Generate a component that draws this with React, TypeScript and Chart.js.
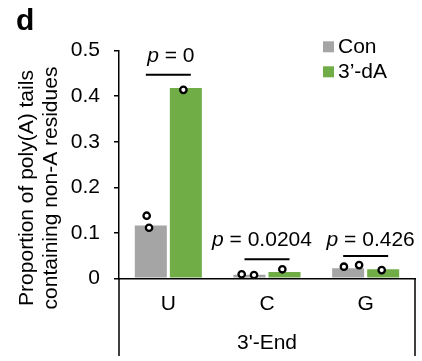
import React, { useEffect, useRef } from 'react';
import { Chart, registerables } from 'chart.js';

Chart.register(...registerables);

// ---- data ----
const categories = ['U', 'C', 'G'];
const seriesNames = ['Con', '3\u2019-dA'];
const conMeans = [0.116, 0.008, 0.022];
const dAMeans = [0.418, 0.014, 0.020];
const conPoints = [[0.1375, 0.111], [0.0088, 0.0073], [0.0255, 0.029]];
const dAPoints = [[0.414], [0.0198], [0.018]];
const conJitter = [[-0.042, -0.018], [-0.079, 0.046], [-0.043, 0.111]];
const dAJitter = [[-0.025], [-0.022], [-0.015]];
const pValues = ['0', '0.0204', '0.426'];
const bracketLevels = [0.447, 0.042, 0.049];
const pTextLevels = [0.475, 0.07, 0.07];
const yTicks = [0, 0.1, 0.2, 0.3, 0.4, 0.5];
const xTitle = "3'-End";
const yTitle = ['Proportion of poly(A) tails', 'containing non-A residues'];
const panelLabel = 'd';

// ---- style ----
const FONT = '"Liberation Sans", Arial, Helvetica, sans-serif';
const FS = 21;
const GRAY = '#A5A5A5';
const GREEN = '#70AD47';
const CAT_PCT = 0.71;
const BAR_PCT = 0.914;
const GROUP_OFF = CAT_PCT / 4;
const BRACKET_HALF = 0.228;
const TEXT_SHIFT = [2.5, -5, 5];

function pointData(points: number[][], jitter: number[][], side: number) {
  const out: { x: number; y: number }[] = [];
  points.forEach((arr, i) => {
    arr.forEach((v, j) => {
      out.push({ x: i + side * GROUP_OFF + jitter[i][j], y: v });
    });
  });
  return out;
}

const decorPlugin = {
  id: 'decor',
  afterDraw(chart: any) {
    const ctx = chart.ctx as CanvasRenderingContext2D;
    const area = chart.chartArea;
    const xs = chart.scales.x;
    const ys = chart.scales.y;
    ctx.save();
    ctx.fillStyle = '#000';
    ctx.strokeStyle = '#000';

    // panel label
    ctx.font = `bold 30px ${FONT}`;
    ctx.textAlign = 'left';
    ctx.textBaseline = 'alphabetic';
    ctx.fillText(panelLabel, 16, 30);

    // y title
    ctx.font = `${FS}px ${FONT}`;
    ctx.textAlign = 'center';
    const yc = 188;
    [33, 57].forEach((bx, k) => {
      ctx.save();
      ctx.translate(bx, yc);
      ctx.rotate(-Math.PI / 2);
      ctx.fillText(yTitle[k], 0, 0);
      ctx.restore();
    });

    // x title
    ctx.fillText(xTitle, (area.left + area.right) / 2, 349);

    // category group lines below axis
    ctx.lineWidth = 1.5;
    ctx.beginPath();
    ctx.moveTo(area.left, area.bottom);
    ctx.lineTo(area.left, 356);
    ctx.moveTo(area.right, area.bottom);
    ctx.lineTo(area.right, 356);
    ctx.stroke();

    // brackets and p labels
    ctx.lineWidth = 2;
    categories.forEach((_, i) => {
      const y = ys.getPixelForValue(bracketLevels[i]);
      ctx.beginPath();
      ctx.moveTo(xs.getPixelForValue(i - BRACKET_HALF), y);
      ctx.lineTo(xs.getPixelForValue(i + BRACKET_HALF), y);
      ctx.stroke();
      const ty = ys.getPixelForValue(pTextLevels[i]);
      const cx = xs.getPixelForValue(i) + TEXT_SHIFT[i];
      ctx.font = `italic ${FS}px ${FONT}`;
      const wp = ctx.measureText('p').width;
      ctx.font = `${FS}px ${FONT}`;
      const rest = ' = ' + pValues[i];
      const wr = ctx.measureText(rest).width;
      const x0 = cx - (wp + wr) / 2;
      ctx.textAlign = 'left';
      ctx.font = `italic ${FS}px ${FONT}`;
      ctx.fillText('p', x0, ty);
      ctx.font = `${FS}px ${FONT}`;
      ctx.fillText(rest, x0 + wp, ty);
    });

    // legend
    const colors = [GRAY, GREEN];
    ctx.textAlign = 'left';
    ctx.font = `${FS}px ${FONT}`;
    seriesNames.forEach((name, k) => {
      const top = 41.3 + k * 25;
      ctx.fillStyle = colors[k];
      ctx.fillRect(323, top, 11, 11);
      ctx.fillStyle = '#000';
      ctx.fillText(name, 338, top + 12);
    });

    ctx.restore();
  },
};

export default function App() {
  const ref = useRef<HTMLCanvasElement>(null);
  useEffect(() => {
    document.body.style.margin = '0';
    const font = { family: FONT, size: FS };
    const pointStyle = {
      pointRadius: 3.2,
      pointBorderWidth: 2.3,
      borderColor: '#000',
      backgroundColor: '#fff',
      order: 0,
    };
    const chart = new Chart(ref.current as HTMLCanvasElement, {
      type: 'bar',
      data: {
        datasets: [
          {
            type: 'scatter',
            label: 'Con points',
            data: pointData(conPoints, conJitter, -1),
            ...pointStyle,
          } as any,
          {
            type: 'scatter',
            label: 'dA points',
            data: pointData(dAPoints, dAJitter, 1),
            ...pointStyle,
          } as any,
          {
            label: seriesNames[0],
            data: conMeans.map((v, i) => ({ x: i, y: v })),
            backgroundColor: GRAY,
            categoryPercentage: CAT_PCT,
            barPercentage: BAR_PCT,
            order: 1,
          } as any,
          {
            label: seriesNames[1],
            data: dAMeans.map((v, i) => ({ x: i, y: v })),
            backgroundColor: GREEN,
            categoryPercentage: CAT_PCT,
            barPercentage: BAR_PCT,
            order: 1,
          } as any,
        ],
      },
      options: {
        animation: false,
        responsive: false,
        devicePixelRatio: 1,
        layout: { padding: { top: 50.7, right: 7, left: 0, bottom: 0 } },
        plugins: { legend: { display: false }, tooltip: { enabled: false } },
        scales: {
          x: {
            type: 'linear',
            min: -0.5,
            max: 2.5,
            offset: false,
            afterBuildTicks: (s: any) => {
              s.ticks = categories.map((_, i) => ({ value: i }));
            },
            ticks: {
              font,
              color: '#000',
              padding: 13,
              maxRotation: 0,
              autoSkip: false,
              callback: (v: any) => categories[Math.round(Number(v))] ?? '',
            },
            grid: { display: false, drawTicks: false },
            border: { color: '#000', width: 1.5 },
            afterFit: (s: any) => {
              s.height = 361 - 278.3;
            },
          },
          y: {
            min: 0,
            max: 0.5,
            afterBuildTicks: (s: any) => {
              s.ticks = yTicks.map((v) => ({ value: v }));
            },
            ticks: {
              font,
              color: '#000',
              padding: 14,
              callback: (v: any) => (Number(v) === 0 ? '0' : Number(v).toFixed(1)),
            },
            grid: { drawOnChartArea: false, drawTicks: true, tickLength: 5, color: '#000', lineWidth: 1.5 },
            border: { color: '#000', width: 1.5 },
            afterFit: (s: any) => {
              s.width = 119;
            },
          },
        },
      } as any,
      plugins: [decorPlugin],
    });
    return () => chart.destroy();
  }, []);
  return (
    <div style={{ position: 'absolute', left: 0, top: 0, width: 422, height: 361, background: '#fff' }}>
      <canvas ref={ref} width={422} height={361} />
    </div>
  );
}
